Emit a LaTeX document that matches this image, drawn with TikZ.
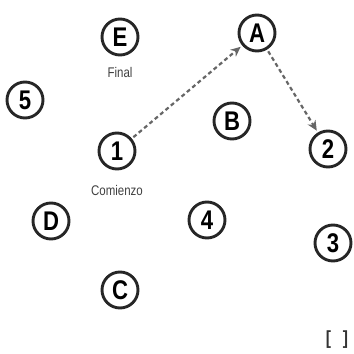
\documentclass[tikz,border=0pt]{standalone}
\usepackage{fontspec}
\setmainfont{Liberation Sans}
\newfontfamily\condfont[FakeStretch=0.82]{Liberation Sans}
\usetikzlibrary{arrows.meta}
\begin{document}
\begin{tikzpicture}[x=1pt,y=-1pt,
  st/.style={circle,draw=black!85,line width=2.9pt,minimum size=36pt,inner sep=0pt,font=\condfont\fontsize{27}{27}\selectfont\bfseries},
  lbl/.style={font=\condfont\fontsize{14}{14}\selectfont,text=black!75},
  conn/.style={dash pattern=on 4pt off 3pt,line width=2.2pt,draw=black!60,shorten <=2pt,shorten >=2pt,-{Stealth[length=10pt,width=9pt]}}]
\useasboundingbox (0,0) rectangle (354,354);
\node[st] (E) at (120,37) {E};
\node[st] (A) at (257,33) {A};
\node[st] (n5) at (25,100) {5};
\node[st] (B) at (232,121) {B};
\node[st] (n2) at (328,149) {2};
\node[st] (n1) at (117,151) {1};
\node[st] (D) at (51,221) {D};
\node[st] (n4) at (207,220) {4};
\node[st] (n3) at (333,243) {3};
\node[st] (C) at (120,290) {C};
\node[lbl] (fin) at (120,72) {Final};
\node[lbl] (com) at (117,190) {Comienzo};
\node[font=\condfont\fontsize{19}{19}\selectfont\bfseries,text=black!80] (br) at (337,340) {[\hspace{12pt}]};
\draw[conn] (n1) -- (A);
\draw[conn] (A) -- (n2);
\end{tikzpicture}
\end{document}
